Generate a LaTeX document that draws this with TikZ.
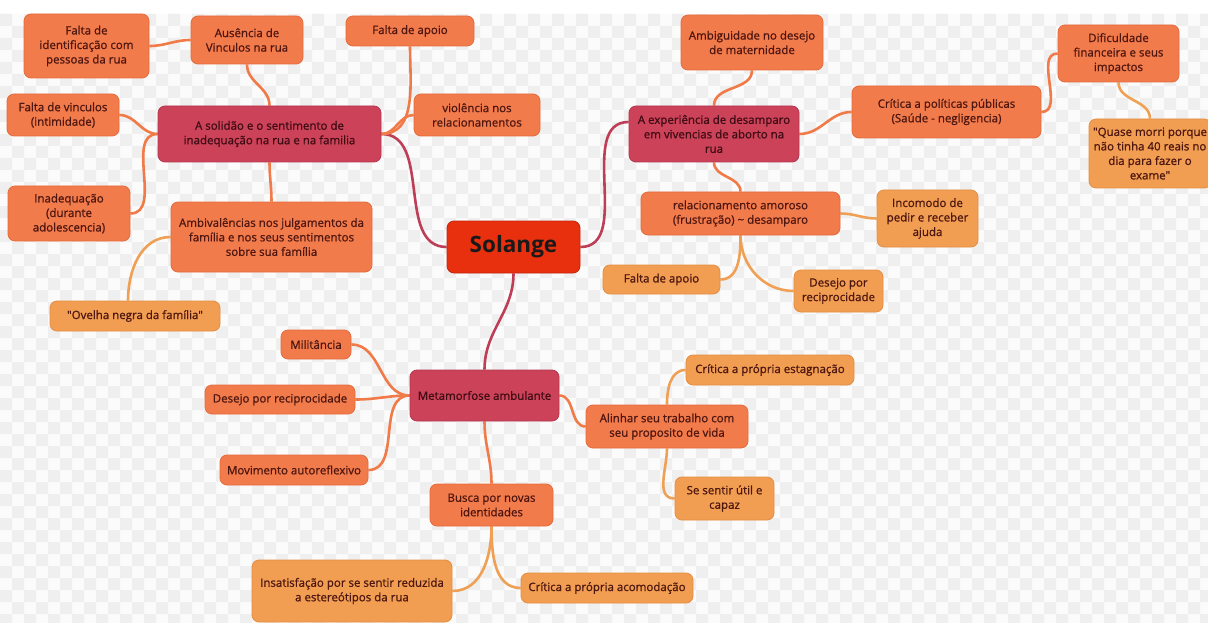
\documentclass[tikz,border=0pt]{standalone}
\usepackage{fontspec}
\setmainfont{Open Sans}
\newfontfamily\medfont{Open Sans}[RawFeature={embolden=0.9}]
\pgfdeclarelayer{bg}
\pgfdeclarelayer{lines}
\pgfsetlayers{bg,lines,main}
\definecolor{c0}{HTML}{E8300E}
\definecolor{c0d}{HTML}{C42410}
\definecolor{c1}{HTML}{CB4259}
\definecolor{c1d}{HTML}{B53650}
\definecolor{c2}{HTML}{F27B4B}
\definecolor{c2d}{HTML}{E56B3C}
\definecolor{c3}{HTML}{F19E52}
\definecolor{c3d}{HTML}{E58E42}
\definecolor{txt}{HTML}{4E1610}
\definecolor{txtone}{HTML}{400C14}
\definecolor{e1c}{HTML}{BF3E57}
\definecolor{e2c}{HTML}{F07A48}
\definecolor{e3c}{HTML}{EFA055}
\definecolor{bgc}{HTML}{FBFBFB}
\definecolor{chk}{HTML}{EFEFEF}
\tikzset{
  base/.style={rounded corners=7pt, align=center, inner sep=0pt, text=txt,
    font=\medfont\fontsize{11.5}{14.5}\selectfont, line width=0.8pt},
  lzero/.style={base, fill=c0, draw=c0d, text=black!90, font=\fontsize{22.5}{26}\selectfont\bfseries},
  lone/.style={base, fill=c1, draw=c1d, text=txtone},
  ltwo/.style={base, fill=c2, draw=c2d},
  lthree/.style={base, fill=c3, draw=c3d},
  sz/.style 2 args={minimum width=#1pt, minimum height=#2pt},
  eone/.style={draw=e1c, line width=2.6pt},
  etwo/.style={draw=e2c, line width=2.6pt},
  ethree/.style={draw=e3c, line width=2.6pt},
}
\begin{document}
\begin{tikzpicture}[x=1pt,y=1pt]
\useasboundingbox (0,0) rectangle (1208,-623);
\clip (0,0) rectangle (1208,-623);
\begin{pgfonlayer}{bg}
\fill[white] (0,0) rectangle (1208,-623);
\fill[bgc] (0,-14) rectangle (1208,-623);
\fill[chk] \foreach \a in {0,24,...,1200} { \foreach \b in {14,38,...,614} {
   (\a,-\b) rectangle ++(12,-12) (\a+12,-\b-12) rectangle ++(12,-12) } };
\end{pgfonlayer}

% central
\node[lzero, sz={133}{52}] (sol) at (513.5,-247) {Solange};
% level 1
\node[lone, sz={223}{56}] (a1) at (269.5,-134) {A solidão e o sentimento de\\inadequação na rua e na familia};
\node[lone, sz={170}{56}] (a2) at (714,-134) {A experiência de desamparo\\em vivencias de aborto na\\rua};
\node[lone, sz={149}{51}] (a3) at (484.5,-395.5) {Metamorfose ambulante};
% level 2 around a1
\node[ltwo, sz={125}{64}] (fid) at (86.5,-46) {Falta de\\identificação com\\pessoas da rua};
\node[ltwo, sz={112}{48}] (aus) at (247,-40) {Ausência de\\Vinculos na rua};
\node[ltwo, sz={128}{30}] (fapa) at (410,-31) {Falta de apoio};
\node[ltwo, sz={126}{42}] (vio) at (477,-115) {violência nos\\relacionamentos};
\node[ltwo, sz={112}{42}] (fvi) at (63,-115) {Falta de vinculos\\(intimidade)};
\node[ltwo, sz={122}{55}] (ina) at (69,-213.5) {Inadequação\\(durante\\adolescencia)};
\node[ltwo, sz={201}{70}] (amb) at (271.5,-237) {Ambivalências nos julgamentos da\\família e nos seus sentimentos\\sobre sua família};
\node[lthree, sz={170}{30}] (ove) at (135,-316) {"Ovelha negra da família"};
% level 2 around a2
\node[ltwo, sz={142}{55}] (mat) at (752,-42.5) {Ambiguidade no desejo\\de maternidade};
\node[ltwo, sz={189}{52}] (crp) at (946.5,-112) {Crítica a políticas públicas\\(Saúde - negligencia)};
\node[ltwo, sz={121}{57}] (dif) at (1118.5,-53.5) {Dificuldade\\financeira e seus\\impactos};
\node[lthree, sz={122}{69}] (qua) at (1150,-153.5) {"Quase morri porque\\não tinha 40 reais no\\dia para fazer o\\exame"};
\node[ltwo, sz={199}{43}] (rel) at (740.5,-213.5) {relacionamento amoroso\\(frustração) \textasciitilde{} desamparo};
\node[lthree, sz={101}{57}] (inc) at (927.5,-218.5) {Incomodo de\\pedir e receber\\ajuda};
\node[lthree, sz={117}{29}] (fapb) at (661.5,-279.5) {Falta de apoio};
\node[lthree, sz={89}{42}] (desb) at (838.5,-291) {Desejo por\\reciprocidade};
% level 2 around a3
\node[ltwo, sz={70}{29}] (mil) at (316,-344.5) {Militância};
\node[ltwo, sz={150}{29}] (desa) at (280,-399.5) {Desejo por reciprocidade};
\node[ltwo, sz={148}{30}] (mov) at (294,-470) {Movimento autoreflexivo};
\node[ltwo, sz={162}{43}] (ali) at (667,-426.5) {Alinhar seu trabalho com\\seu proposito de vida};
\node[lthree, sz={168}{30}] (est) at (770,-370) {Crítica a própria estagnação};
\node[lthree, sz={99}{43}] (sen) at (724.5,-498.5) {Se sentir útil e\\capaz};
\node[ltwo, sz={123}{42}] (bus) at (491.5,-505) {Busca por novas\\identidades};
\node[lthree, sz={200}{62}] (ins) at (352,-591) {Insatisfação por se sentir reduzida\\a estereótipos da rua};
\node[lthree, sz={172}{30}] (aco) at (607,-588) {Crítica a própria acomodação};

\begin{pgfonlayer}{lines}
% level 1
\draw[eone] (a1.east) to[out=0,in=180] (sol.west);
\draw[eone] (sol.east) to[out=0,in=180] ([yshift=12pt]a2.west);
\draw[eone] (sol.south) to[out=-90,in=90] (a3.north);
% a1 children
\draw[etwo] (a1.north) to[out=90,in=-90] (aus.south);
\draw[etwo] (aus.west) to[out=180,in=0] (fid.east);
\draw[etwo] (a1.west) to[out=180,in=0] (fvi.east);
\draw[etwo] (a1.west) to[out=180,in=0] (ina.east);
\draw[etwo] (a1.south) to[out=-90,in=90] (amb.north);
\draw[ethree] (amb.west) to[out=180,in=90] ([xshift=-7pt]ove.north);
\draw[etwo] (a1.east) to[out=0,in=-90] (fapa.south);
\draw[etwo] (a1.east) to[out=0,in=180] (vio.west);
% a2 children
\draw[etwo] (a2.north) to[out=90,in=-90] (mat.south);
\draw[etwo] (a2.east) to[out=0,in=180] (crp.west);
\draw[etwo] (crp.east) to[out=0,in=180] (dif.west);
\draw[ethree] (dif.south) to[out=-90,in=90] (qua.north);
\draw[etwo] (a2.south) to[out=-90,in=90] (rel.north);
\draw[ethree] (rel.east) to[out=0,in=180] (inc.west);
\draw[ethree] (rel.south) to[out=-90,in=0] (fapb.east);
\draw[ethree] (rel.south) to[out=-90,in=180] (desb.west);
% a3 children
\draw[etwo] (a3.west) to[out=180,in=0] (mil.east);
\draw[etwo] (a3.west) to[out=180,in=0] (desa.east);
\draw[etwo] (a3.west) to[out=180,in=0] (mov.east);
\draw[etwo] (a3.east) to[out=0,in=180] (ali.west);
\draw[ethree] (ali.north) to[out=90,in=180] (est.west);
\draw[ethree] (ali.south) to[out=-90,in=180] (sen.west);
\draw[etwo] (a3.south) to[out=-90,in=90] (bus.north);
\draw[ethree] (bus.south) to[out=-90,in=0] (ins.east);
\draw[ethree] (bus.south) to[out=-90,in=180] (aco.west);
\end{pgfonlayer}
\end{tikzpicture}
\end{document}
